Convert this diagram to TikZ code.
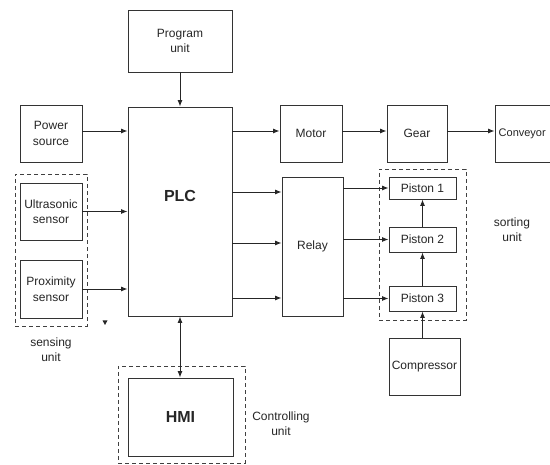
\documentclass[tikz,border=0pt]{standalone}
\usepackage{fontspec}
\setmainfont{Liberation Sans}
\usetikzlibrary{arrows.meta,fit}
\begin{document}
\begin{tikzpicture}[x=1pt,y=-1pt,
  box/.style={draw=black!80,line width=0.9pt,rectangle,inner sep=0pt,align=center,
    font=\fontsize{12}{15.5}\selectfont,text=black!85},
  dbox/.style={draw=black!75,line width=0.9pt,dash pattern=on 4pt off 3pt,rectangle,inner sep=0pt},
  lbl/.style={align=center,font=\fontsize{12}{15}\selectfont,text=black!85,inner sep=0pt},
  arr/.style={draw=black!85,line width=0.9pt,-{Latex[length=6.5pt,width=5pt]}},
  darr/.style={draw=black!85,line width=0.9pt,{Latex[length=6.5pt,width=5pt]}-{Latex[length=6.5pt,width=5pt]}}]
\useasboundingbox[fill=white] (0,0) rectangle (550,465);
% boxes
\node[box,minimum width=104pt,minimum height=62pt] (prog) at (180,41) {Program\\unit};
\node[box,minimum width=104pt,minimum height=209pt] (plc) at (180,211.5) {};
\node[font=\bfseries\fontsize{16}{18}\selectfont,text=black!85] (plct) at (180,196) {PLC};
\node[box,minimum width=62pt,minimum height=57pt] (power) at (51,133.5) {Power\\source};
\node[box,minimum width=62pt,minimum height=57pt] (ultra) at (51,211.5) {Ultrasonic\\sensor};
\node[box,minimum width=62pt,minimum height=58pt] (prox) at (51,289) {Proximity\\sensor};
\node[box,minimum width=62pt,minimum height=57pt] (motor) at (311,133.5) {Motor};
\node[box,minimum width=60pt,minimum height=57pt] (gear) at (417,133.5) {Gear};
\node[box,minimum width=62pt,minimum height=57pt] (conv) at (526,133.5) {};
\node[lbl,font=\fontsize{11}{13}\selectfont,anchor=west] (convt) at (498.5,133.5) {Conveyor};
\node[box,minimum width=61pt,minimum height=139pt] (relay) at (312.5,246.5) {Relay};
\node[box,minimum width=67pt,minimum height=22pt] (p1) at (422.5,188) {Piston 1};
\node[box,minimum width=67pt,minimum height=25pt] (p2) at (422.5,239.5) {Piston 2};
\node[box,minimum width=67pt,minimum height=25pt] (p3) at (422.5,298.5) {Piston 3};
\node[box,minimum width=71pt,minimum height=57pt] (comp) at (424.5,366.5) {Compressor};
\node[box,minimum width=105pt,minimum height=78pt,font=\bfseries\fontsize{16}{18}\selectfont] (hmi) at (180.5,417) {HMI};
% dashed groups
\coordinate (s1) at (15,174); \coordinate (s2) at (87,326);
\node[dbox,fit=(s1)(s2)] (sensing) {};
\coordinate (o1) at (379,169); \coordinate (o2) at (466,320);
\node[dbox,fit=(o1)(o2)] (sorting) {};
\coordinate (c1) at (118,366); \coordinate (c2) at (245,463);
\node[dbox,fit=(c1)(c2)] (ctrl) {};
% labels
\node[lbl] (sensl) at (51,350) {sensing\\unit};
\node[lbl] (sortl) at (512,230) {sorting\\unit};
\node[lbl] (ctrll) at (281,424) {Controlling\\unit};
% helper coordinates
\coordinate (pw) at ([yshift=2.5pt]power.east);
\coordinate (mw) at ([yshift=2.5pt]motor.west);
\coordinate (me) at ([yshift=2.5pt]motor.east);
\coordinate (gw) at ([yshift=2.5pt]gear.west);
\coordinate (ge) at ([yshift=2.5pt]gear.east);
\coordinate (cw) at ([yshift=2.5pt]conv.west);
\coordinate (r1) at ([yshift=54.5pt]relay.west);
\coordinate (r2) at ([yshift=3.5pt]relay.west);
\coordinate (r3) at ([yshift=-51.5pt]relay.west);
% arrows
\draw[arr] (prog.south) -- (plc.north);
\draw[arr] (pw) -- (plc.west |- pw);
\draw[arr] (ultra.east) -- (plc.west |- ultra.east);
\draw[arr] (prox.east) -- (plc.west |- prox.east);
\draw[arr] (plc.east |- mw) -- (mw);
\draw[arr] (me) -- (gw);
\draw[arr] (ge) -- (cw);
\draw[arr] (plc.east |- r1) -- (r1);
\draw[arr] (plc.east |- r2) -- (r2);
\draw[arr] (plc.east |- r3) -- (r3);
\draw[arr] (relay.east |- p1.west) -- (p1.west);
\draw[arr] (relay.east |- p2.west) -- (p2.west);
\draw[arr] (relay.east |- p3.west) -- (p3.west);
\draw[arr] (p2.north) -- (p1.south);
\draw[arr] (p3.north) -- (p2.south);
\draw[arr] (p3.south |- comp.north) -- (p3.south);
\draw[darr] (plc.south) -- (plc.south |- hmi.north);
% stray mark
\fill[black!85] (102.5,320.5) -- (107.5,320.5) -- (105,325) -- cycle;
\end{tikzpicture}
\end{document}
